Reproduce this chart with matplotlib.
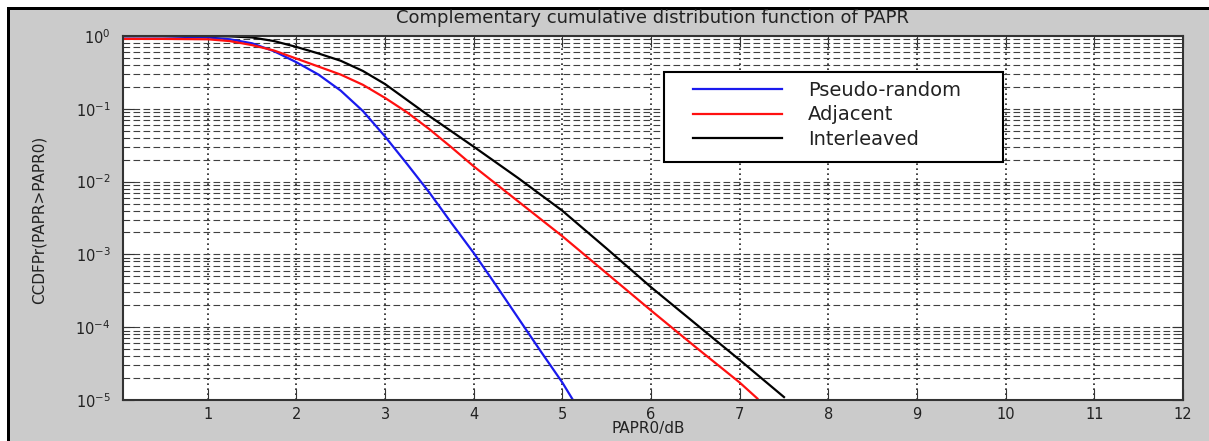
import matplotlib
matplotlib.use("Agg")
import matplotlib.pyplot as plt
import numpy as np
from matplotlib.patches import Rectangle

# PAPR threshold (dB) and log10 of CCDF for each subcarrier mapping
x_pseudo = [0.05, 0.5, 1.0, 1.25, 1.5, 1.75, 2.0, 2.25, 2.5, 2.75, 3.0, 3.25,
            3.5, 3.75, 4.0, 4.25, 4.5, 4.75, 5.0, 5.12]
log_pseudo = [-0.005, -0.005, -0.02, -0.045, -0.10, -0.21, -0.36, -0.53, -0.75,
              -1.03, -1.38, -1.76, -2.15, -2.57, -2.98, -3.42, -3.87, -4.32,
              -4.76, -5.0]

x_adjacent = [0.05, 0.5, 1.0, 1.25, 1.5, 1.75, 2.0, 2.25, 2.5, 2.75, 3.0, 3.25,
              3.5, 3.75, 4.0, 4.5, 5.0, 5.5, 6.0, 6.5, 7.0, 7.2]
log_adjacent = [-0.04, -0.04, -0.045, -0.07, -0.125, -0.20, -0.31, -0.42, -0.53,
                -0.67, -0.85, -1.05, -1.28, -1.53, -1.79, -2.27, -2.75, -3.26,
                -3.77, -4.27, -4.76, -4.98]

x_interleaved = [0.05, 1.0, 1.25, 1.5, 1.75, 2.0, 2.25, 2.5, 2.75, 3.0, 3.25,
                 3.5, 3.75, 4.0, 4.5, 5.0, 5.5, 6.0, 6.5, 7.0, 7.5]
log_interleaved = [0.0, 0.0, -0.005, -0.02, -0.07, -0.15, -0.24, -0.34, -0.48,
                   -0.66, -0.88, -1.10, -1.31, -1.52, -1.95, -2.40, -2.92, -3.45,
                   -3.95, -4.45, -4.96]

labels = ["Pseudo-random", "Adjacent", "Interleaved"]
colors = ["#1a1aee", "#ff1010", "#000000"]
x_ticks = list(range(1, 13))

W, H = 1209, 441
fig = plt.figure(figsize=(W / 100, H / 100), dpi=100)
fig.patch.set_facecolor("#cbcbcb")


def px_rect(x0, y0, x1, y1, **kw):
    """Rectangle given in pixel coords measured from the top-left corner."""
    return Rectangle((x0 / W, 1 - y1 / H), (x1 - x0) / W, (y1 - y0) / H,
                     transform=fig.transFigure, **kw)


# white margin + black frame along the top and left edges
fig.add_artist(px_rect(0, 0, W, 7, color="white", lw=0))
fig.add_artist(px_rect(0, 0, 7, H, color="white", lw=0))
fig.add_artist(px_rect(7, 7, W, 10, color="black", lw=0))
fig.add_artist(px_rect(7, 7, 10, H, color="black", lw=0))

ax = fig.add_axes([123 / W, 41 / H, 1060 / W, 364 / H])
ax.set_facecolor("white")

for xs, ls_, c, lab in zip([x_pseudo, x_adjacent, x_interleaved],
                           [log_pseudo, log_adjacent, log_interleaved],
                           colors, labels):
    ax.semilogy(xs, 10 ** np.array(ls_), color=c, lw=1.6, label=lab)

ax.set_xlim(0.045, 12)
ax.set_ylim(1e-5, 1)
ax.set_xticks(x_ticks)
ax.set_xticklabels([str(t) for t in x_ticks])

ax.set_axisbelow(True)
ax.yaxis.grid(True, which="both", linestyle=(0, (6, 3)), lw=0.8, color="#404040")
ax.xaxis.grid(True, which="major", linestyle=(0, (1, 2)), lw=1.2, color="#202020")

ax.tick_params(which="both", direction="in", top=True, right=True,
               labelsize=10.5, colors="#333333", labelcolor="#222222")
ax.tick_params(which="major", length=8)
ax.tick_params(which="minor", length=4)
ax.tick_params(axis="y", pad=9)
ax.tick_params(axis="x", pad=5)
for sp in ax.spines.values():
    sp.set_linewidth(1.5)
    sp.set_color("#333333")

fig.text(653 / W, 1 - 18 / H, "Complementary cumulative distribution function of PAPR",
         ha="center", va="center", fontsize=13, color="#222222")
fig.text(648 / W, 1 - 429 / H, "PAPR0/dB", ha="center", va="center",
         fontsize=11, color="#222222")
fig.text(39 / W, 1 - 220 / H, "CCDFPr(PAPR>PAPR0)", ha="center", va="center",
         rotation=90, fontsize=11, color="#222222")

# legend box drawn separately so its padding can be set freely
ax.add_patch(px_rect(664, 72, 1003, 162, facecolor="white", edgecolor="black",
                     lw=1.5, zorder=4.5, clip_on=False))
leg = ax.legend(loc="upper left", bbox_to_anchor=(693 / W, 1 - 81 / H),
                bbox_transform=fig.transFigure, borderaxespad=0, borderpad=0,
                fontsize=14, handlelength=4.6, handletextpad=1.3,
                labelspacing=0.28, frameon=False)
for t in leg.get_texts():
    t.set_color("#222222")

fig.savefig("out.png", dpi=100, facecolor=fig.get_facecolor())
